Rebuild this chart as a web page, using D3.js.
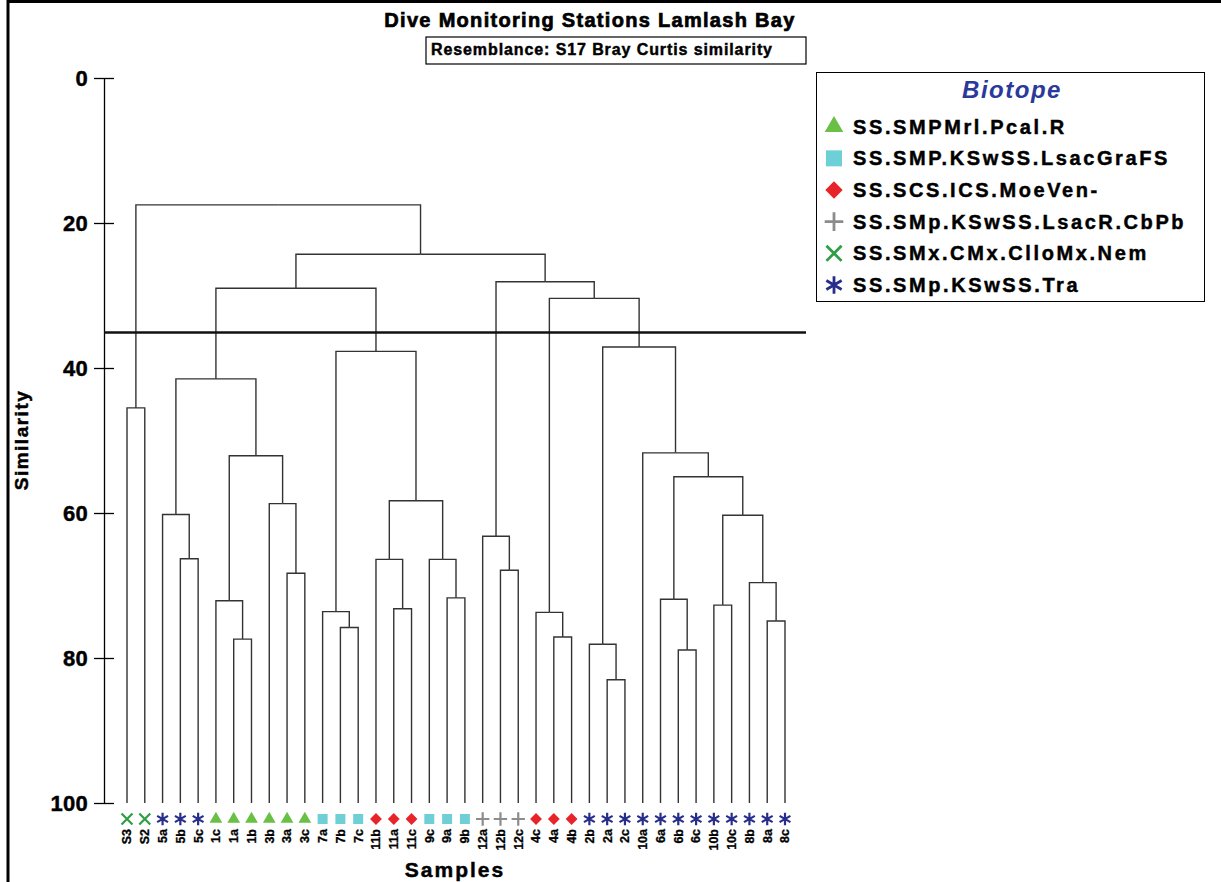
<!DOCTYPE html>
<html>
<head>
<meta charset="utf-8">
<script src="https://cdn.jsdelivr.net/npm/d3@7.9.0/dist/d3.min.js"></script>
<style>
  body { margin: 0; background: #fff; }
  svg { display: block; font-family: "Liberation Sans", Arial, sans-serif; font-weight: bold; }
  .heavy { stroke: #000; stroke-width: 0.45px; paint-order: stroke; }
</style>
</head>
<body>
<svg id="chart" width="1221" height="882"></svg>
<script>
// leaf order as drawn, left to right
const samples = ['S3','S2','5a','5b','5c','1c','1a','1b','3b','3a','3c','7a','7b','7c',
  '11b','11a','11c','9c','9a','9b','12a','12b','12c','4c','4a','4b','2b','2a','2c',
  '10a','6a','6b','6c','10b','10c','8b','8a','8c'];

const biotopes = ['SS.SMPMrl.Pcal.R', 'SS.SMP.KSwSS.LsacGraFS', 'SS.SCS.ICS.MoeVen-',
  'SS.SMp.KSwSS.LsacR.CbPb', 'SS.SMx.CMx.ClloMx.Nem', 'SS.SMp.KSwSS.Tra'];

// biotope index of each sample
const sampleBiotope = [4,4,5,5,5,0,0,0,0,0,0,1,1,1,2,2,2,1,1,1,3,3,3,2,2,2,
  5,5,5,5,5,5,5,5,5,5,5,5];

// merges: [left, right, similarity]; a number refers to an earlier merge row
const merges = [
  ['S3','S2',45.5],   // 0
  ['5b','5c',66.3],   // 1
  ['5a',1,60.2],      // 2
  ['1a','1b',77.4],   // 3
  ['1c',3,72.1],      // 4
  ['3a','3c',68.3],   // 5
  ['3b',5,58.7],      // 6
  [4,6,52.1],         // 7
  [2,7,41.5],         // 8
  ['7b','7c',75.8],   // 9
  ['7a',9,73.6],      // 10
  ['11a','11c',73.2], // 11
  ['11b',11,66.4],    // 12
  ['9a','9b',71.7],   // 13
  ['9c',13,66.4],     // 14
  [12,14,58.3],       // 15
  [10,15,37.7],       // 16
  [8,16,29.0],        // 17
  ['12b','12c',67.9], // 18
  ['12a',18,63.2],    // 19
  ['4a','4b',77.1],   // 20
  ['4c',20,73.7],     // 21
  ['2a','2c',83.0],   // 22
  ['2b',22,78.1],     // 23
  ['6b','6c',78.9],   // 24
  ['6a',24,71.9],     // 25
  ['10b','10c',72.7], // 26
  ['8a','8c',74.9],   // 27
  ['8b',27,69.6],     // 28
  [26,28,60.3],       // 29
  [25,29,55.0],       // 30
  ['10a',30,51.7],    // 31
  [23,31,37.1],       // 32
  [21,32,30.4],       // 33
  [19,33,28.1],       // 34
  [17,34,24.3],       // 35
  [0,35,17.5]         // 36
];

const cutLevel = 35.1;
const yTicks = [0, 20, 40, 60, 80, 100];

const colors = ['#6abf45', '#6fcfd6', '#e8242b', '#8c8c8c', '#2f9e44', '#262e8a'];
const shapes = [d3.symbolTriangle, d3.symbolSquare, d3.symbolSquare, d3.symbolPlus, d3.symbolTimes, d3.symbolAsterisk];
const stroked = [false, false, false, true, true, true];

// build tree
const nodes = merges.map(() => ({}));
function toNode(ref) {
  if (typeof ref === 'number') return nodes[ref];
  return { name: ref, sim: 100, biotope: sampleBiotope[samples.indexOf(ref)] };
}
merges.forEach(([a, b, s], i) => {
  nodes[i].sim = s;
  nodes[i].children = [toNode(a), toNode(b)];
});
const root = d3.hierarchy(nodes[nodes.length - 1]);

const svg = d3.select('#chart');

const x = d3.scalePoint().domain(samples).range([127, 785]);
const y = d3.scaleLinear().domain([0, 100]).range([78, 803]);

root.eachAfter(d => {
  d.x = d.children ? d3.mean(d.children, c => c.x) : x(d.data.name);
});

// frame
svg.append('line').attr('x1', 8).attr('x2', 8).attr('y1', 0).attr('y2', 882)
  .attr('stroke', '#000').attr('stroke-width', 3);
svg.append('line').attr('x1', 8).attr('x2', 1221).attr('y1', 1.5).attr('y2', 1.5)
  .attr('stroke', '#000').attr('stroke-width', 3);

// title
svg.append('text').attr('class', 'heavy').attr('x', 590).attr('y', 27).attr('text-anchor', 'middle')
  .style('font-size', '20px').style('letter-spacing', '1.3px').style('stroke-width', '0.7px')
  .text('Dive Monitoring Stations Lamlash Bay');
svg.append('rect').attr('x', 426).attr('y', 37).attr('width', 380).attr('height', 27)
  .attr('fill', 'none').attr('stroke', '#000').attr('stroke-width', 1.2);
svg.append('text').attr('class', 'heavy').attr('x', 431).attr('y', 55)
  .style('font-size', '16px').style('letter-spacing', '0.9px')
  .text('Resemblance: S17 Bray Curtis similarity');

// axis
const axis = svg.append('g').attr('transform', 'translate(104,0)')
  .call(d3.axisLeft(y).tickValues(yTicks).tickSizeInner(10).tickSizeOuter(0).tickPadding(6));
axis.select('.domain').attr('stroke', '#000').attr('stroke-width', 1.3);
axis.selectAll('.tick line').attr('stroke', '#000').attr('stroke-width', 1.3);
axis.selectAll('.tick').append('line').attr('x2', 10).attr('stroke', '#000').attr('stroke-width', 1.3);
axis.selectAll('.tick text').attr('class', 'heavy').attr('fill', '#000')
  .style('font-size', '22px').style('font-family', '"Liberation Sans", Arial, sans-serif')
  .style('font-weight', 'bold').style('letter-spacing', '0.3px');

svg.append('text').attr('class', 'heavy').attr('transform', 'translate(28,440) rotate(-90)')
  .attr('text-anchor', 'middle')
  .style('font-size', '19px').style('letter-spacing', '1.5px').text('Similarity');

// dendrogram links
svg.append('g').selectAll('path')
  .data(root.links())
  .join('path')
  .attr('d', l => `M${l.target.x},${y(l.target.data.sim)}V${y(l.source.data.sim)}H${l.source.x}`)
  .attr('fill', 'none').attr('stroke', '#333').attr('stroke-width', 1.4);

// cut line
svg.append('line').attr('x1', 104).attr('x2', 806).attr('y1', y(cutLevel)).attr('y2', y(cutLevel))
  .attr('stroke', '#111').attr('stroke-width', 2.4);

// leaf symbols
const leafSizes = [70, 100, 70, 60, 80, 110];
function symbolPath(b, sizes) {
  return d3.symbol().type(shapes[b]).size(sizes[b])();
}
svg.append('g').selectAll('path')
  .data(root.leaves())
  .join('path')
  .attr('transform', d => `translate(${d.x},819)` + (d.data.biotope === 2 ? ' rotate(45)' : ''))
  .attr('d', d => symbolPath(d.data.biotope, leafSizes))
  .attr('fill', d => stroked[d.data.biotope] ? 'none' : colors[d.data.biotope])
  .attr('stroke', d => stroked[d.data.biotope] ? colors[d.data.biotope] : 'none')
  .attr('stroke-width', 2.2);

// leaf labels
svg.append('g').selectAll('text')
  .data(root.leaves())
  .join('text')
  .attr('class', 'heavy')
  .attr('transform', d => `translate(${d.x},829) rotate(-90)`)
  .attr('text-anchor', 'end').attr('dy', '0.35em')
  .style('font-size', '12.5px').style('stroke-width', '0.3px')
  .text(d => d.data.name);

svg.append('text').attr('class', 'heavy').attr('x', 455).attr('y', 877).attr('text-anchor', 'middle')
  .style('font-size', '21px').style('letter-spacing', '2px').text('Samples');

// legend
const legend = svg.append('g');
legend.append('rect').attr('x', 816.5).attr('y', 72.5).attr('width', 388).attr('height', 229)
  .attr('fill', 'none').attr('stroke', '#000').attr('stroke-width', 1);
legend.append('text').attr('x', 1012).attr('y', 98).attr('text-anchor', 'middle')
  .attr('fill', '#2b3a9a').style('font-size', '24px').style('font-style', 'italic')
  .style('letter-spacing', '1.5px').text('Biotope');
const legendSizes = [150, 256, 150, 115, 150, 220];
const rows = legend.selectAll('g.row').data(biotopes).join('g')
  .attr('class', 'row')
  .attr('transform', (d, i) => `translate(0,${126.7 + i * 31.66})`);
rows.append('path')
  .attr('transform', (d, i) => 'translate(834,0)' + (i === 2 ? ' rotate(45)' : ''))
  .attr('d', (d, i) => symbolPath(i, legendSizes))
  .attr('fill', (d, i) => stroked[i] ? 'none' : colors[i])
  .attr('stroke', (d, i) => stroked[i] ? colors[i] : 'none')
  .attr('stroke-width', 2.8);
rows.append('text').attr('class', 'heavy').attr('x', 853).attr('y', 7)
  .style('font-size', '20px').style('letter-spacing', '2.6px')
  .text(d => d);
</script>
</body>
</html>
